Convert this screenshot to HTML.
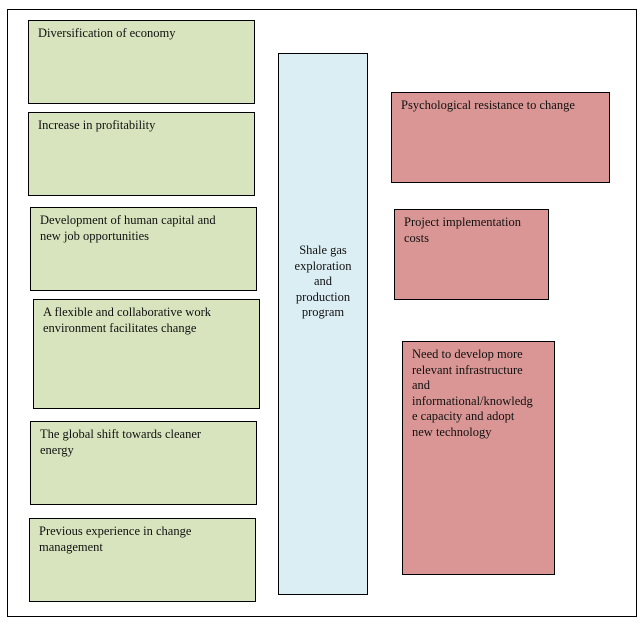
<!DOCTYPE html>
<html><head><style>
body{margin:0;width:643px;height:626px;background:#fff;position:relative;font-family:"Liberation Serif",serif;font-size:12.5px;line-height:15.5px;color:#111}
div.b{position:absolute;box-sizing:border-box;border:1px solid #000;padding:5px 9px;white-space:nowrap}
.g{background:#d7e4bd}.r{background:#d99694}.bl{background:#dbeef4;text-align:center}
</style></head><body>
<div class="b" style="left:7px;top:9px;width:630px;height:608px;background:#fff"></div>
<div class="b g" style="left:28px;top:20px;width:227px;height:84px">Diversification of economy</div>
<div class="b g" style="left:28px;top:112px;width:227px;height:84px">Increase in profitability</div>
<div class="b g" style="left:30px;top:207px;width:227px;height:84px">Development of human capital and<br>new job opportunities</div>
<div class="b g" style="left:33px;top:299px;width:227px;height:110px">A flexible and collaborative work<br>environment facilitates change</div>
<div class="b g" style="left:30px;top:421px;width:227px;height:84px">The global shift towards cleaner<br>energy</div>
<div class="b g" style="left:29px;top:518px;width:227px;height:84px">Previous experience in change<br>management</div>
<div class="b bl" style="left:278px;top:53px;width:90px;height:542px;padding:189px 0 0">Shale gas<br>exploration<br>and<br>production<br>program</div>
<div class="b r" style="left:391px;top:92px;width:219px;height:91px">Psychological resistance to change</div>
<div class="b r" style="left:394px;top:209px;width:155px;height:91px">Project implementation<br>costs</div>
<div class="b r" style="left:402px;top:341px;width:153px;height:234px">Need to develop more<br>relevant infrastructure<br>and<br>informational/knowledg<br>e capacity and adopt<br>new technology</div>
</body></html>
